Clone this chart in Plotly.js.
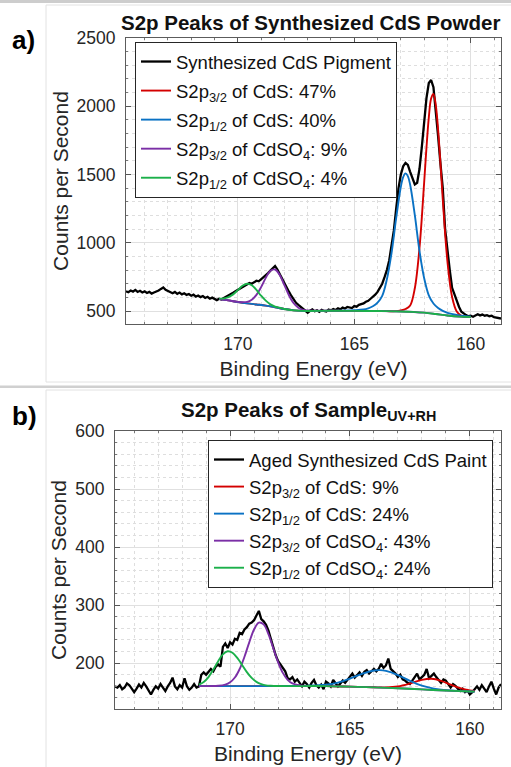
<!DOCTYPE html>
<html>
<head>
<meta charset="utf-8">
<script src="https://cdn.plot.ly/plotly-3.0.1.min.js"></script>
<style>
  html, body { margin: 0; padding: 0; background: #ffffff; }
  #chart { width: 511px; height: 767px; }
</style>
</head>
<body>
<div id="chart"></div>
<script>
// ---------- shared energy axis of the measured spectra (eV) ----------
const energy = [
  174.8,174.7,174.6,174.5,174.4,174.3,174.2,174.1,174.0,173.9,
  173.8,173.7,173.6,173.5,173.4,173.3,173.2,173.1,173.0,172.9,
  172.8,172.7,172.6,172.5,172.4,172.3,172.2,172.1,172.0,171.9,
  171.8,171.7,171.6,171.5,171.4,171.3,171.2,171.1,171.0,170.9,
  170.8,170.7,170.6,170.5,170.4,170.3,170.2,170.1,170.0,169.9,
  169.8,169.7,169.6,169.5,169.4,169.3,169.2,169.1,169.0,168.9,
  168.8,168.7,168.6,168.5,168.4,168.3,168.2,168.1,168.0,167.9,
  167.8,167.7,167.6,167.5,167.4,167.3,167.2,167.1,167.0,166.9,
  166.8,166.7,166.6,166.5,166.4,166.3,166.2,166.1,166.0,165.9,
  165.8,165.7,165.6,165.5,165.4,165.3,165.2,165.1,165.0,164.9,
  164.8,164.7,164.6,164.5,164.4,164.3,164.2,164.1,164.0,163.9,
  163.8,163.7,163.6,163.5,163.4,163.3,163.2,163.1,163.0,162.9,
  162.8,162.7,162.6,162.5,162.4,162.3,162.2,162.1,162.0,161.9,
  161.8,161.7,161.6,161.5,161.4,161.3,161.2,161.1,161.0,160.9,
  160.8,160.7,160.6,160.5,160.4,160.3,160.2,160.1,160.0,159.9,
  159.8,159.7,159.6,159.5,159.4,159.3,159.2,159.1,159.0,158.9,
  158.8,158.7
];

// ---------- panel a: synthesized CdS powder ----------
const powderCounts = [
  645,638,650,642,655,640,648,636,644,632,
  640,628,636,642,650,662,672,655,645,638,
  630,640,626,635,622,630,618,625,612,620,
  606,614,602,610,596,604,590,598,586,580,
  590,584,596,604,612,622,634,645,656,668,
  676,690,698,706,700,714,722,718,732,748,
  760,778,796,812,830,804,770,740,705,665,
  640,610,585,560,545,530,518,505,488,502,
  512,498,505,494,508,500,496,510,504,515,
  508,520,512,525,518,530,528,522,536,532,
  545,550,556,568,575,590,603,620,640,666,
  700,748,800,870,990,1090,1250,1400,1500,1560,
  1585,1570,1520,1465,1428,1440,1540,1700,1880,2060,
  2170,2192,2140,1980,1780,1580,1400,1100,930,800,
  670,620,575,530,495,480,470,462,466,458,
  470,476,468,474,466,470,462,466,455,452,
  448,445
];

const aCdS32E = [170.8,170.4,170.0,169.6,169.2,168.8,168.4,168.0,167.6,167.2,
  166.0,165.0,164.0,163.6,163.2,163.0,162.8,162.6,162.4,162.2,162.0,161.9,161.8,161.7,161.6,161.5,
  161.4,161.3,161.2,161.0,160.8,160.6,160.4,160.2,160.0];
const aCdS32Y = [588,578,566,556,548,540,528,515,505,501,
  502,501,500,499,499,505,515,541,667,962,1440,1696,1917,2057,2090,2009,
  1828,1584,1318,864,603,497,465,457,456];

const aCdS12E = [170.8,170.4,170.0,169.6,169.2,168.8,168.4,168.0,167.6,167.2,
  166.0,165.0,164.6,164.4,164.2,164.0,163.8,163.6,163.4,163.2,
  163.0,162.9,162.8,162.7,162.6,162.4,162.2,162.0,161.8,161.6,
  161.4,161.2,161.0,160.6,160.2,160.0];
const aCdS12Y = [588,578,566,556,548,540,528,515,505,501,
  502,506,511,520,535,561,611,732,925,1182,
  1410,1481,1508,1488,1425,1202,940,741,615,555,
  522,501,487,471,462,460];

const aSO432E = [170.8,170.4,170.0,169.6,169.4,169.2,169.0,168.8,168.6,168.4,168.2,168.0,167.8,
  167.6,167.4,167.2,167.0,166.0,165.0,164.0,163.0,162.0,161.5,161.0,160.5,160.0];
const aSO432Y = [588,578,567,567,583,618,675,743,795,804,764,690,614,
  557,524,508,504,502,501,500,497,488,478,467,459,456];

const aSO412E = [170.8,170.6,170.4,170.2,170.0,169.8,169.6,169.4,169.2,169.0,168.8,168.6,168.4,
  168.2,168.0,167.6,167.2,166.0,165.0,164.0,163.0,162.5,162.0,161.5,161.0,160.5,160.0];
const aSO412Y = [591,592,602,622,653,685,700,689,655,612,576,549,533,
  524,515,505,501,502,501,500,497,494,488,478,467,459,456];

const legendA = [
  'Synthesized CdS Pigment',
  'S2p<sub>3/2</sub> of CdS: 47%',
  'S2p<sub>1/2</sub> of CdS: 40%',
  'S2p<sub>3/2</sub> of CdSO<sub>4</sub>: 9%',
  'S2p<sub>1/2</sub> of CdSO<sub>4</sub>: 4%'
];

// ---------- panel b: aged paint sample (UV+RH) ----------
const paintCounts = [
  160,158,162,155,158,165,162,156,150,156,
  163,158,166,160,152,146,154,160,156,164,
  158,152,160,166,175,160,155,162,158,174,
  160,154,158,164,158,160,180,184,180,186,
  190,186,194,198,194,228,234,226,236,232,
  242,240,252,250,258,262,268,270,274,282,
  290,276,272,266,256,242,226,214,204,198,
  194,186,174,172,176,168,172,166,160,168,
  164,158,166,171,162,158,163,155,168,165,
  160,171,166,160,165,170,166,171,176,182,
  175,179,184,178,185,188,182,186,190,186,
  190,199,192,196,208,190,186,182,176,180,
  172,170,166,164,170,176,182,172,176,180,
  190,174,178,182,176,170,166,172,170,164,
  158,164,161,156,152,156,150,153,146,150,
  156,160,154,162,156,150,160,168,156,146,
  158,164
];

const bCdS32E = [171.3,170.0,168.0,167.0,166.0,165.0,164.0,163.5,163.0,162.5,162.0,161.6,161.2,160.8,160.4,160.0,159.8];
const bCdS32Y = [160.5,160.5,160.5,160.5,160.5,159.5,158.4,158.3,160,164.9,171.2,173,169.6,163,157,153,152];

const bCdS12E = [171.3,170.0,168.0,167.0,166.5,166.0,165.5,165.0,164.5,164.0,163.75,163.5,163.0,162.5,162.0,161.5,161.0,160.5,160.0,159.8];
const bCdS12Y = [160.5,160.5,160.5,160.8,161.5,162.9,166.5,173.2,181.6,187.3,188,186.6,179.5,169.5,161.3,156.2,153.5,152.2,151.2,151];

const bSO432E = [171.3,170.5,170.2,170.0,169.8,169.6,169.4,169.2,169.0,168.8,168.6,168.4,168.2,168.0,
  167.8,167.6,167.4,167.2,167.0,166.0,165.0,164.0,163.0,162.0,161.0,160.0,159.8];
const bSO432Y = [160.5,161,163,167,175.2,189.9,211,235.9,258,269.8,266.8,250,225.8,201.9,
  183.2,171.3,165,162.3,161.2,160.5,159.5,158.3,156.8,154.8,152.8,151.2,151];

const bSO412E = [171.3,171.1,170.9,170.7,170.5,170.3,170.1,169.9,169.7,169.5,169.3,169.1,168.9,
  168.7,168.5,168.3,168.0,167.0,166.0,165.0,164.0,163.0,162.0,161.0,160.0,159.8];
const bSO412Y = [163,167.5,176,189,203,215,220.5,217.9,209.1,196.9,184.6,174.6,167.8,
  163.9,161.8,161,160.6,160.5,160.5,159.5,158.3,156.8,154.8,152.8,151.2,151];

const legendB = [
  'Aged Synthesized CdS Paint',
  'S2p<sub>3/2</sub> of CdS: 9%',
  'S2p<sub>1/2</sub> of CdS: 24%',
  'S2p<sub>3/2</sub> of CdSO<sub>4</sub>: 43%',
  'S2p<sub>1/2</sub> of CdSO<sub>4</sub>: 24%'
];

// ---------- styling ----------
const FONT = 'Liberation Sans, Arial, Helvetica, sans-serif';
const colors = ['#000000', '#d40000', '#0a72c4', '#7b2fa6', '#1bb04a'];
const widths = [2.3, 1.9, 1.9, 1.9, 1.9];

function trace(x, y, i, names, xa, ya, leg, smooth) {
  return {
    x: x, y: y, type: 'scatter', mode: 'lines', name: names[i],
    line: { color: colors[i], width: widths[i], shape: smooth ? 'spline' : 'linear' },
    xaxis: xa, yaxis: ya, legend: leg, legendgroup: leg + '-' + i, hoverinfo: 'skip'
  };
}

const data = [
  trace(energy, powderCounts, 0, legendA, 'x', 'y', 'legend', false),
  trace(aCdS32E, aCdS32Y, 1, legendA, 'x', 'y', 'legend', true),
  trace(aCdS12E, aCdS12Y, 2, legendA, 'x', 'y', 'legend', true),
  trace(aSO432E, aSO432Y, 3, legendA, 'x', 'y', 'legend', true),
  trace(aSO412E, aSO412Y, 4, legendA, 'x', 'y', 'legend', true),
  trace(energy, paintCounts, 0, legendB, 'x2', 'y2', 'legend2', false),
  trace(bCdS32E, bCdS32Y, 1, legendB, 'x2', 'y2', 'legend2', true),
  trace(bCdS12E, bCdS12Y, 2, legendB, 'x2', 'y2', 'legend2', true),
  trace(bSO432E, bSO432Y, 3, legendB, 'x2', 'y2', 'legend2', true),
  trace(bSO412E, bSO412Y, 4, legendB, 'x2', 'y2', 'legend2', true)
];

const W = 511, H = 767;
const px = v => v / W;
const py = v => 1 - v / H;

const TICKSIZE = 17.5, AXTITLE = 21, LEGSIZE = 18.5, TITLESIZE = 20.5;

function xAxis(domain, anchor) {
  return {
    domain: domain, anchor: anchor, range: [174.8, 158.7],
    tickvals: [170, 165, 160], ticks: 'inside', ticklen: 5, tickcolor: '#555',
    showline: true, linecolor: '#5c5c5c', linewidth: 1, mirror: 'ticks',
    showgrid: true, gridcolor: '#e0e0e0', gridwidth: 1, zeroline: false,
    minor: { dtick: 1, tick0: 0, showgrid: true, gridcolor: '#dedede', griddash: 'dot', ticks: 'inside', ticklen: 2, tickcolor: '#777' },
    tickfont: { family: FONT, size: TICKSIZE, color: '#262626' },
    ticklabelstandoff: 4,
    title: { text: 'Binding Energy (eV)', font: { family: FONT, size: AXTITLE, color: '#262626' }, standoff: 8 }
  };
}
function yAxis(domain, anchor, range, dtick, minor) {
  return {
    domain: domain, anchor: anchor, range: range, dtick: dtick, tick0: 0,
    ticks: 'inside', ticklen: 5, tickcolor: '#555',
    showline: true, linecolor: '#5c5c5c', linewidth: 1, mirror: 'ticks',
    showgrid: true, gridcolor: '#e0e0e0', gridwidth: 1, zeroline: false,
    minor: { dtick: minor, tick0: 0, showgrid: true, gridcolor: '#dedede', griddash: 'dot', ticks: 'inside', ticklen: 2, tickcolor: '#777' },
    tickfont: { family: FONT, size: TICKSIZE, color: '#262626' },
    ticklabelstandoff: 6,
    title: { text: 'Counts per Second', font: { family: FONT, size: AXTITLE, color: '#262626' }, standoff: 2 }
  };
}

function legendBox(x, y, gap) {
  return {
    x: x, y: y, xanchor: 'left', yanchor: 'top',
    bgcolor: '#ffffff', bordercolor: '#262626', borderwidth: 1,
    font: { family: FONT, size: LEGSIZE, color: '#111' },
    itemwidth: 30, tracegroupgap: gap, traceorder: 'grouped'
  };
}

const layout = {
  width: W, height: H,
  margin: { l: 0, r: 0, t: 0, b: 0 },
  paper_bgcolor: '#ffffff', plot_bgcolor: '#ffffff',
  showlegend: true,
  xaxis: xAxis([px(126), px(501)], 'y'),
  yaxis: yAxis([py(324), py(38)], 'x', [405, 2500], 500, 100),
  xaxis2: xAxis([px(115), px(501)], 'y2'),
  yaxis2: yAxis([py(709), py(431)], 'x2', [121, 600], 100, 20),
  legend: legendBox(px(135), py(42), 2),
  legend2: legendBox(px(208), py(440), 0),
  annotations: [
    { text: '<b>S2p Peaks of Synthesized CdS Powder</b>', xref: 'paper', yref: 'paper',
      x: px(310), y: py(22), xanchor: 'center', yanchor: 'middle', showarrow: false,
      font: { family: FONT, size: TITLESIZE, color: '#111' } },
    { text: '<b>S2p Peaks of Sample<sub>UV+RH</sub></b>', xref: 'paper', yref: 'paper',
      x: px(308), y: py(411), xanchor: 'center', yanchor: 'middle', showarrow: false,
      font: { family: FONT, size: TITLESIZE, color: '#111' } },
    { text: '<b>a)</b>', xref: 'paper', yref: 'paper', x: px(23), y: py(40),
      xanchor: 'center', yanchor: 'middle', showarrow: false,
      font: { family: FONT, size: 26, color: '#000' } },
    { text: '<b>b)</b>', xref: 'paper', yref: 'paper', x: px(24), y: py(416),
      xanchor: 'center', yanchor: 'middle', showarrow: false,
      font: { family: FONT, size: 26, color: '#000' } }
  ],
  shapes: [
    { type: 'rect', xref: 'paper', yref: 'paper', x0: 0, x1: 1, y0: py(3), y1: 1,
      fillcolor: '#cdcdcd', line: { width: 0 }, layer: 'below' },
    { type: 'line', xref: 'paper', yref: 'paper', x0: px(46), x1: 1, y0: py(5), y1: py(5),
      line: { color: '#e2e2e2', width: 1 }, layer: 'below' },
    { type: 'line', xref: 'paper', yref: 'paper', x0: px(46), x1: px(46), y0: py(382), y1: py(5),
      line: { color: '#e2e2e2', width: 1 }, layer: 'below' },
    { type: 'line', xref: 'paper', yref: 'paper', x0: px(46), x1: 1, y0: py(382), y1: py(382),
      line: { color: '#e2e2e2', width: 1 }, layer: 'below' },
    { type: 'rect', xref: 'paper', yref: 'paper', x0: 0, x1: 1, y0: py(388), y1: py(385.5),
      fillcolor: '#d0d0d0', line: { width: 0 }, layer: 'below' },
    { type: 'line', xref: 'paper', yref: 'paper', x0: px(46), x1: 1, y0: py(390), y1: py(390),
      line: { color: '#e2e2e2', width: 1 }, layer: 'below' },
    { type: 'line', xref: 'paper', yref: 'paper', x0: px(46), x1: px(46), y0: 0, y1: py(390),
      line: { color: '#e2e2e2', width: 1 }, layer: 'below' }
  ]
};

Plotly.newPlot('chart', data, layout, { staticPlot: true, displayModeBar: false });
</script>
</body>
</html>
